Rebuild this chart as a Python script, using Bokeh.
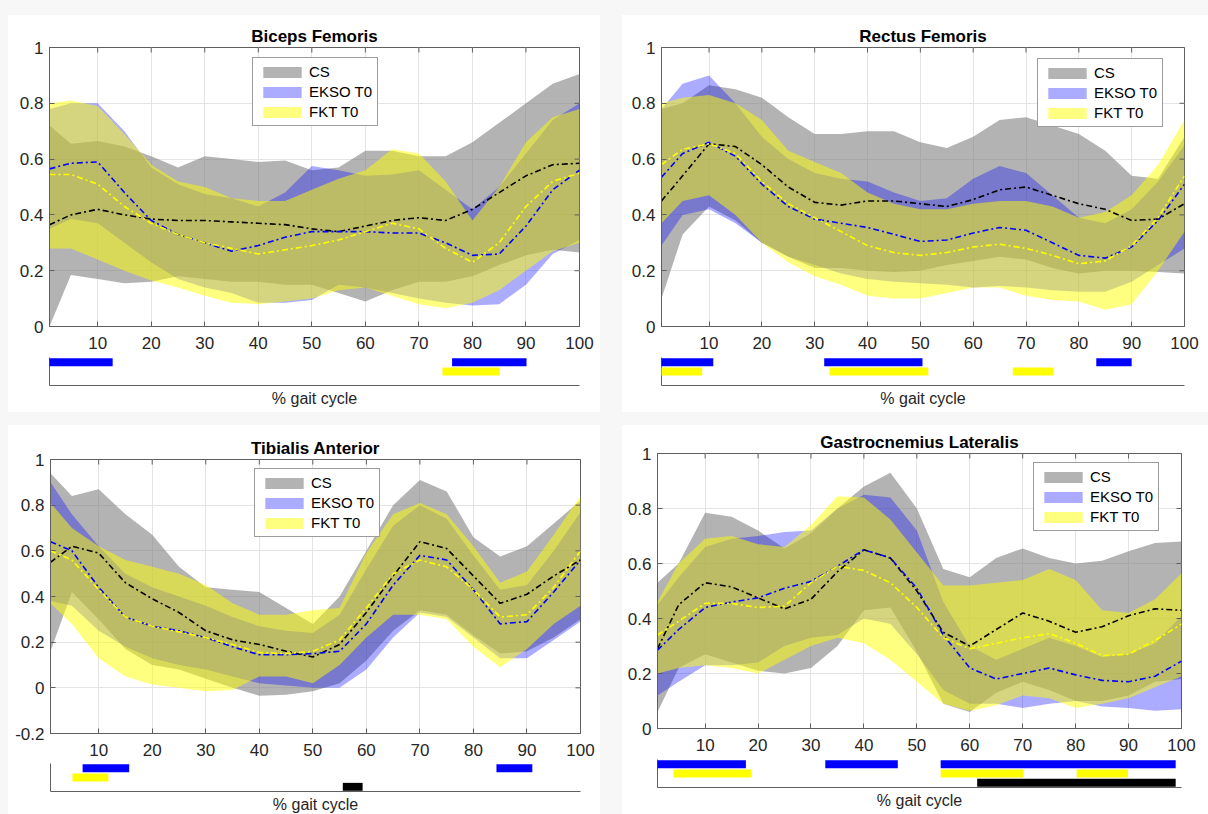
from bokeh.plotting import figure
from bokeh.models import (Range1d, Legend, LegendItem, FixedTicker, CustomJSTickFormatter, Spacer)
from bokeh.layouts import column, row
from bokeh.embed import file_html
from bokeh.resources import INLINE

# ---------------- data ----------------
X = [1, 5, 10, 15, 20, 25, 30, 35, 40, 45, 50, 55, 60, 65, 70, 75, 80, 85, 90, 95, 100]
SERIES = ["CS", "EKSO T0", "FKT T0"]

# Biceps Femoris
bf_cs_mean = [0.365, 0.40, 0.42, 0.40, 0.385, 0.38, 0.38, 0.375, 0.37, 0.365, 0.35, 0.34, 0.36, 0.38, 0.39, 0.38, 0.42, 0.48, 0.54, 0.58, 0.585]
bf_ek_mean = [0.565, 0.585, 0.59, 0.48, 0.38, 0.33, 0.30, 0.27, 0.29, 0.32, 0.34, 0.34, 0.34, 0.335, 0.335, 0.30, 0.255, 0.26, 0.36, 0.49, 0.56]
bf_fk_mean = [0.545, 0.545, 0.51, 0.43, 0.37, 0.33, 0.30, 0.28, 0.26, 0.275, 0.29, 0.31, 0.34, 0.37, 0.35, 0.28, 0.23, 0.30, 0.43, 0.52, 0.55]
bf_cs_up = [0.72, 0.655, 0.665, 0.645, 0.61, 0.57, 0.61, 0.60, 0.59, 0.595, 0.56, 0.57, 0.63, 0.63, 0.61, 0.61, 0.66, 0.73, 0.80, 0.87, 0.905]
bf_cs_lo = [0.0, 0.185, 0.17, 0.155, 0.16, 0.18, 0.17, 0.16, 0.16, 0.15, 0.15, 0.12, 0.09, 0.13, 0.16, 0.16, 0.18, 0.22, 0.255, 0.275, 0.265]
bf_ek_up = [0.78, 0.80, 0.80, 0.70, 0.57, 0.51, 0.475, 0.46, 0.43, 0.48, 0.575, 0.56, 0.54, 0.545, 0.56, 0.49, 0.42, 0.50, 0.62, 0.74, 0.80]
bf_ek_lo = [0.35, 0.385, 0.37, 0.30, 0.23, 0.17, 0.14, 0.12, 0.085, 0.085, 0.095, 0.15, 0.14, 0.12, 0.10, 0.085, 0.075, 0.08, 0.15, 0.26, 0.31]
bf_fk_up = [0.80, 0.81, 0.79, 0.69, 0.58, 0.52, 0.50, 0.46, 0.45, 0.45, 0.49, 0.53, 0.56, 0.635, 0.62, 0.52, 0.38, 0.50, 0.66, 0.75, 0.78]
bf_fk_lo = [0.28, 0.28, 0.24, 0.20, 0.165, 0.14, 0.11, 0.085, 0.08, 0.09, 0.10, 0.13, 0.14, 0.11, 0.08, 0.065, 0.085, 0.13, 0.20, 0.27, 0.30]

# Rectus Femoris
rf_cs_mean = [0.45, 0.54, 0.655, 0.645, 0.58, 0.50, 0.445, 0.435, 0.45, 0.45, 0.44, 0.43, 0.455, 0.49, 0.50, 0.47, 0.44, 0.42, 0.38, 0.385, 0.44]
rf_ek_mean = [0.535, 0.62, 0.66, 0.61, 0.51, 0.43, 0.385, 0.37, 0.355, 0.33, 0.305, 0.31, 0.335, 0.355, 0.345, 0.30, 0.255, 0.245, 0.285, 0.38, 0.51]
rf_fk_mean = [0.58, 0.635, 0.655, 0.62, 0.52, 0.44, 0.39, 0.34, 0.29, 0.265, 0.255, 0.265, 0.285, 0.295, 0.28, 0.255, 0.225, 0.235, 0.29, 0.39, 0.54]
rf_cs_up = [0.78, 0.80, 0.865, 0.85, 0.82, 0.75, 0.69, 0.69, 0.70, 0.70, 0.66, 0.64, 0.68, 0.74, 0.75, 0.72, 0.69, 0.63, 0.54, 0.53, 0.68]
rf_cs_lo = [0.10, 0.33, 0.43, 0.38, 0.30, 0.25, 0.21, 0.21, 0.20, 0.195, 0.20, 0.22, 0.235, 0.25, 0.24, 0.21, 0.19, 0.20, 0.20, 0.195, 0.19]
rf_ek_up = [0.78, 0.87, 0.90, 0.80, 0.68, 0.60, 0.55, 0.53, 0.52, 0.48, 0.45, 0.46, 0.53, 0.575, 0.55, 0.47, 0.39, 0.37, 0.42, 0.52, 0.65]
rf_ek_lo = [0.29, 0.40, 0.42, 0.37, 0.30, 0.25, 0.22, 0.19, 0.17, 0.16, 0.155, 0.15, 0.14, 0.145, 0.14, 0.13, 0.125, 0.125, 0.16, 0.22, 0.28]
rf_fk_up = [0.80, 0.82, 0.83, 0.80, 0.74, 0.63, 0.59, 0.55, 0.48, 0.44, 0.42, 0.42, 0.44, 0.45, 0.45, 0.43, 0.39, 0.41, 0.47, 0.58, 0.74]
rf_fk_lo = [0.37, 0.45, 0.47, 0.40, 0.30, 0.23, 0.18, 0.15, 0.11, 0.10, 0.10, 0.12, 0.14, 0.14, 0.11, 0.095, 0.09, 0.06, 0.08, 0.20, 0.34]

# Tibialis Anterior
ta_cs_mean = [0.55, 0.62, 0.59, 0.46, 0.39, 0.33, 0.25, 0.21, 0.19, 0.16, 0.135, 0.19, 0.33, 0.49, 0.64, 0.61, 0.49, 0.37, 0.41, 0.49, 0.56]
ta_ek_mean = [0.64, 0.60, 0.44, 0.31, 0.27, 0.25, 0.22, 0.18, 0.145, 0.145, 0.15, 0.16, 0.28, 0.45, 0.58, 0.56, 0.43, 0.28, 0.29, 0.42, 0.56]
ta_fk_mean = [0.60, 0.56, 0.43, 0.31, 0.27, 0.245, 0.22, 0.19, 0.155, 0.15, 0.16, 0.21, 0.35, 0.50, 0.56, 0.53, 0.43, 0.31, 0.32, 0.44, 0.60]
ta_cs_up = [0.94, 0.84, 0.87, 0.76, 0.67, 0.53, 0.44, 0.43, 0.42, 0.35, 0.28, 0.40, 0.60, 0.80, 0.91, 0.86, 0.66, 0.575, 0.62, 0.72, 0.82]
ta_cs_lo = [0.16, 0.42, 0.30, 0.17, 0.10, 0.08, 0.04, 0.0, -0.035, -0.03, -0.015, 0.02, 0.12, 0.25, 0.34, 0.32, 0.23, 0.15, 0.16, 0.22, 0.30]
ta_ek_up = [0.90, 0.76, 0.62, 0.50, 0.44, 0.40, 0.36, 0.31, 0.27, 0.25, 0.24, 0.32, 0.52, 0.71, 0.80, 0.74, 0.58, 0.43, 0.45, 0.60, 0.77]
ta_ek_lo = [0.38, 0.36, 0.25, 0.18, 0.13, 0.10, 0.08, 0.05, 0.02, 0.01, 0.0, 0.0, 0.08, 0.22, 0.33, 0.31, 0.22, 0.13, 0.13, 0.21, 0.29]
ta_fk_up = [0.81, 0.70, 0.62, 0.56, 0.53, 0.50, 0.45, 0.37, 0.32, 0.32, 0.34, 0.35, 0.59, 0.76, 0.81, 0.76, 0.62, 0.46, 0.51, 0.67, 0.84]
ta_fk_lo = [0.37, 0.28, 0.13, 0.05, 0.015, 0.0, -0.015, -0.01, 0.05, 0.05, 0.02, 0.10, 0.22, 0.32, 0.32, 0.30, 0.18, 0.09, 0.17, 0.28, 0.36]

# Gastrocnemius Lateralis
gl_cs_mean = [0.29, 0.45, 0.53, 0.515, 0.475, 0.435, 0.47, 0.57, 0.65, 0.62, 0.50, 0.35, 0.30, 0.36, 0.42, 0.39, 0.35, 0.37, 0.41, 0.435, 0.43]
gl_ek_mean = [0.285, 0.36, 0.44, 0.46, 0.475, 0.51, 0.535, 0.59, 0.65, 0.62, 0.51, 0.34, 0.22, 0.18, 0.20, 0.22, 0.195, 0.175, 0.17, 0.19, 0.245]
gl_fk_mean = [0.34, 0.39, 0.455, 0.455, 0.44, 0.445, 0.53, 0.59, 0.575, 0.53, 0.44, 0.33, 0.29, 0.31, 0.33, 0.345, 0.31, 0.265, 0.27, 0.32, 0.38]
gl_cs_up = [0.53, 0.60, 0.785, 0.77, 0.72, 0.655, 0.71, 0.80, 0.88, 0.93, 0.80, 0.58, 0.55, 0.62, 0.655, 0.62, 0.60, 0.61, 0.645, 0.675, 0.68]
gl_cs_lo = [0.06, 0.22, 0.27, 0.24, 0.21, 0.20, 0.22, 0.30, 0.43, 0.44, 0.28, 0.09, 0.06, 0.13, 0.17, 0.14, 0.10, 0.10, 0.12, 0.17, 0.18]
gl_ek_up = [0.45, 0.55, 0.66, 0.69, 0.70, 0.715, 0.72, 0.80, 0.85, 0.84, 0.72, 0.46, 0.30, 0.25, 0.29, 0.33, 0.30, 0.26, 0.27, 0.31, 0.41]
gl_ek_lo = [0.12, 0.17, 0.23, 0.23, 0.24, 0.30, 0.33, 0.34, 0.40, 0.38, 0.27, 0.14, 0.09, 0.09, 0.075, 0.09, 0.10, 0.08, 0.075, 0.065, 0.07]
gl_fk_up = [0.46, 0.60, 0.69, 0.70, 0.67, 0.66, 0.74, 0.845, 0.84, 0.76, 0.64, 0.52, 0.52, 0.53, 0.54, 0.58, 0.54, 0.43, 0.42, 0.47, 0.565]
gl_fk_lo = [0.20, 0.22, 0.23, 0.22, 0.20, 0.25, 0.30, 0.33, 0.31, 0.25, 0.17, 0.09, 0.065, 0.085, 0.12, 0.11, 0.075, 0.09, 0.11, 0.15, 0.19]

# significance bars (start, end) in % gait cycle
bf_sig_blue = [(1, 12.8), (76.2, 90.1)]
bf_sig_yellow = [(74.4, 85.1)]
bf_sig_black = []
rf_sig_blue = [(1, 10.8), (31.8, 50.4), (83.3, 90.0)]
rf_sig_yellow = [(1, 8.7), (32.8, 51.5), (67.5, 75.2)]
rf_sig_black = []
ta_sig_blue = [(7.0, 15.7), (84.3, 91.0)]
ta_sig_yellow = [(5.1, 11.8)]
ta_sig_black = [(55.6, 59.3)]
gl_sig_blue = [(1, 17.7), (32.7, 46.4), (54.5, 98.9)]
gl_sig_yellow = [(4.0, 18.7), (54.5, 70.1), (80.2, 89.9)]
gl_sig_black = [(61.4, 98.9)]

X_TICKS = [10, 20, 30, 40, 50, 60, 70, 80, 90, 100]
Y_TICKS_A = [0, 0.2, 0.4, 0.6, 0.8, 1]
Y_TICKS_B = [-0.2, 0, 0.2, 0.4, 0.6, 0.8, 1]

# ---------------- styling ----------------
FONT = "Liberation Sans"
AX = "#5f5f5f"
TXT = "#262626"
FILLS = [("#808080", 0.6), ("#0000ff", 0.33), ("#ffff00", 0.5)]
LINES = ["#000000", "#0000ff", "#ffff00"]
BAR_COLORS = {"blue": "#0000ff", "yellow": "#ffff00", "black": "#000000"}


def make_panel(title, bands, means, ylim, yticks, sig, geom, legend_xy):
    left, fw, right, top, fh, bottom, s_bottom = geom
    p = figure(frame_width=fw, frame_height=fh, min_border_left=left, min_border_right=right,
               min_border_top=top, min_border_bottom=bottom,
               x_range=Range1d(1, 100), y_range=Range1d(*ylim),
               toolbar_location=None, output_backend="svg", title=title)
    p.border_fill_color = "white"
    p.background_fill_color = "white"
    p.outline_line_color = AX
    p.title.align = "center"
    p.title.text_font = FONT
    p.title.text_font_size = "17px"
    p.title.text_font_style = "bold"
    p.title.text_color = "#000000"
    p.title.standoff = 3

    p.xaxis.ticker = FixedTicker(ticks=X_TICKS)
    p.yaxis.ticker = FixedTicker(ticks=yticks)
    p.yaxis.formatter = CustomJSTickFormatter(code="return Number(tick.toFixed(2)).toString();")
    for ax in (p.xaxis[0], p.yaxis[0]):
        ax.axis_line_color = AX
        ax.major_tick_line_color = AX
        ax.major_tick_in = 5
        ax.major_tick_out = 0
        ax.minor_tick_line_color = None
        ax.major_label_text_font = FONT
        ax.major_label_text_font_size = "17px"
        ax.major_label_text_color = TXT
    p.xaxis.major_label_standoff = 10
    p.yaxis.major_label_standoff = 6
    p.xgrid.ticker = FixedTicker(ticks=X_TICKS)
    p.ygrid.ticker = FixedTicker(ticks=yticks)
    p.grid.grid_line_color = "#e4e4e4"

    items = []
    for name, (lo, up), (fc, fa) in zip(SERIES, bands, FILLS):
        r = p.varea(x=X, y1=lo, y2=up, fill_color=fc, fill_alpha=fa)
        items.append(LegendItem(label=name, renderers=[r]))
    for m, lc in zip(means, LINES):
        p.line(X, m, line_color=lc, line_width=1.6, line_dash="6 3 2 3")

    # inward tick marks on the top and right edges of the box (clipped to the frame)
    p.scatter(x=X_TICKS, y=[ylim[1]] * len(X_TICKS), marker="dash", angle=1.5708,
              size=10, line_color=AX, line_width=1)
    p.scatter(x=[100] * len(yticks), y=yticks, marker="dash",
              size=10, line_color=AX, line_width=1)

    leg = Legend(items=items, location=legend_xy, border_line_color="#3a3a3a",
                 border_line_width=1, background_fill_alpha=1, label_text_font=FONT,
                 label_text_font_size="15px", label_text_color="#000000",
                 glyph_width=48, glyph_height=14, label_height=17, spacing=3,
                 padding=5, margin=0, label_standoff=3)
    p.add_layout(leg, "center")

    s = figure(frame_width=fw, frame_height=28, min_border_left=left, min_border_right=right,
               min_border_top=0, min_border_bottom=s_bottom,
               x_range=p.x_range, y_range=Range1d(0.5, 3.5),
               toolbar_location=None, output_backend="svg")
    s.border_fill_color = "white"
    s.outline_line_color = None
    s.grid.visible = False
    for ax in (s.xaxis[0], s.yaxis[0]):
        ax.ticker = FixedTicker(ticks=[])
        ax.axis_line_color = AX
        ax.major_label_standoff = 0
        ax.minor_tick_line_color = None
        ax.major_tick_line_color = None
    s.xaxis.axis_label = "% gait cycle"
    s.xaxis.axis_label_text_font = FONT
    s.xaxis.axis_label_text_font_size = "16px"
    s.xaxis.axis_label_text_font_style = "normal"
    s.xaxis.axis_label_text_color = TXT
    s.xaxis.axis_label_standoff = 4
    for level, key in ((3, "blue"), (2, "yellow"), (1, "black")):
        segs = sig[key]
        if segs:
            s.hbar(y=[level] * len(segs), left=[a for a, b in segs], right=[b for a, b in segs],
                   height=0.85, fill_color=BAR_COLORS[key], line_color=None, level="overlay")
    return column(p, s, spacing=0, styles={"background-color": "white"})


bf = make_panel("Biceps Femoris",
                [(bf_cs_lo, bf_cs_up), (bf_ek_lo, bf_ek_up), (bf_fk_lo, bf_fk_up)],
                [bf_cs_mean, bf_ek_mean, bf_fk_mean], (0, 1), Y_TICKS_A,
                {"blue": bf_sig_blue, "yellow": bf_sig_yellow, "black": bf_sig_black},
                (41, 530, 21, 32, 279, 31, 27), (203, 200))
rf = make_panel("Rectus Femoris",
                [(rf_cs_lo, rf_cs_up), (rf_ek_lo, rf_ek_up), (rf_fk_lo, rf_fk_up)],
                [rf_cs_mean, rf_ek_mean, rf_fk_mean], (0, 1), Y_TICKS_A,
                {"blue": rf_sig_blue, "yellow": rf_sig_yellow, "black": rf_sig_black},
                (39, 523, 24, 32, 279, 31, 27), (376, 199))
ta = make_panel("Tibialis Anterior",
                [(ta_cs_lo, ta_cs_up), (ta_ek_lo, ta_ek_up), (ta_fk_lo, ta_fk_up)],
                [ta_cs_mean, ta_ek_mean, ta_fk_mean], (-0.2, 1), Y_TICKS_B,
                {"blue": ta_sig_blue, "yellow": ta_sig_yellow, "black": ta_sig_black},
                (42, 530, 20, 34, 274, 30, 23), (204, 196))
gl = make_panel("Gastrocnemius Lateralis",
                [(gl_cs_lo, gl_cs_up), (gl_ek_lo, gl_ek_up), (gl_fk_lo, gl_fk_up)],
                [gl_cs_mean, gl_ek_mean, gl_fk_mean], (0, 1), Y_TICKS_A,
                {"blue": gl_sig_blue, "yellow": gl_sig_yellow, "black": gl_sig_black},
                (35, 524, 27, 28, 275, 31, 27), (376, 197))

root = column(
    Spacer(width=1208, height=15),
    row(Spacer(width=8, height=397), bf, Spacer(width=22, height=397), rf, spacing=0),
    Spacer(width=1208, height=13),
    row(Spacer(width=8, height=389), ta, Spacer(width=22, height=389), gl, spacing=0),
    spacing=0,
    styles={"background-color": "#f7f7f7"},
)

open("out.html", "w").write(file_html(root, INLINE))
